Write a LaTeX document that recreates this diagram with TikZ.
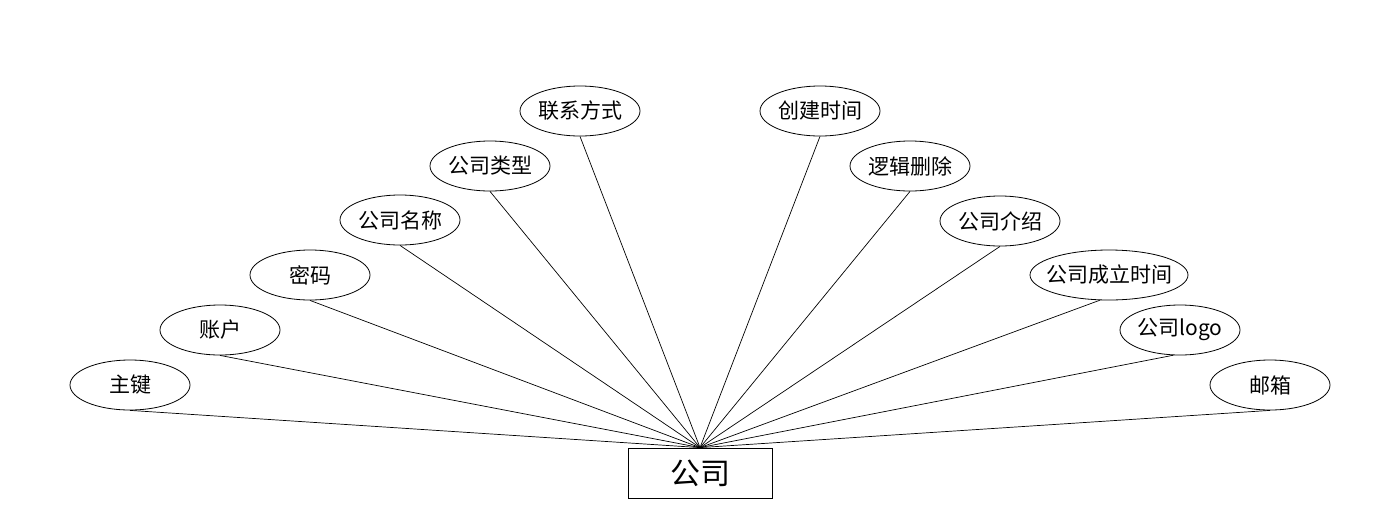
\documentclass[tikz,border=0pt]{standalone}
\usepackage{fontspec}
\newfontfamily\cjk{Noto Sans CJK SC}
\usetikzlibrary{shapes.geometric}
\newcommand\zw[1]{\raisebox{-2pt}{\makebox[0pt]{#1}}}
\tikzset{
  attr/.style={ellipse, draw, line width=0.8pt, minimum width=120pt, minimum height=50pt, inner sep=0pt, font=\cjk\fontsize{21}{25}\selectfont},
  entity/.style={rectangle, draw, line width=0.8pt, minimum width=144pt, minimum height=50pt, inner sep=0pt, font=\cjk\fontsize{30}{36}\selectfont},
  link/.style={line width=0.7pt}
}
\begin{document}
\begin{tikzpicture}[x=1pt,y=-1pt]
\useasboundingbox (0,0) rectangle (1400,528);
\node[entity] (e) at (700,473) {公司};
\node[attr] (a1) at (130,385) {\zw{主键}};
\node[attr] (a2) at (220,330) {\zw{账户}};
\node[attr] (a3) at (310,275) {\zw{密码}};
\node[attr] (a4) at (400,220) {\zw{公司名称}};
\node[attr] (a5) at (490,166) {\zw{公司类型}};
\node[attr] (a6) at (580,111) {\zw{联系方式}};
\node[attr] (b1) at (820,111) {\zw{创建时间}};
\node[attr] (b2) at (910,166) {\zw{逻辑删除}};
\node[attr] (b3) at (1000,221) {\zw{公司介绍}};
\node[attr, minimum width=158pt] (b4) at (1109,275) {\zw{公司成立时间}};
\node[attr] (b5) at (1180,330) {\zw{公司logo}};
\node[attr] (b6) at (1270,385) {\zw{邮箱}};
\foreach \n in {a1,a2,a3,a4,a5,a6,b1,b2,b3,b6}
  \draw[link] (\n.south) -- (e.north);
\draw[link] (b4.250) -- (e.north);
\draw[link] (b5.255) -- (e.north);
\end{tikzpicture}
\end{document}
